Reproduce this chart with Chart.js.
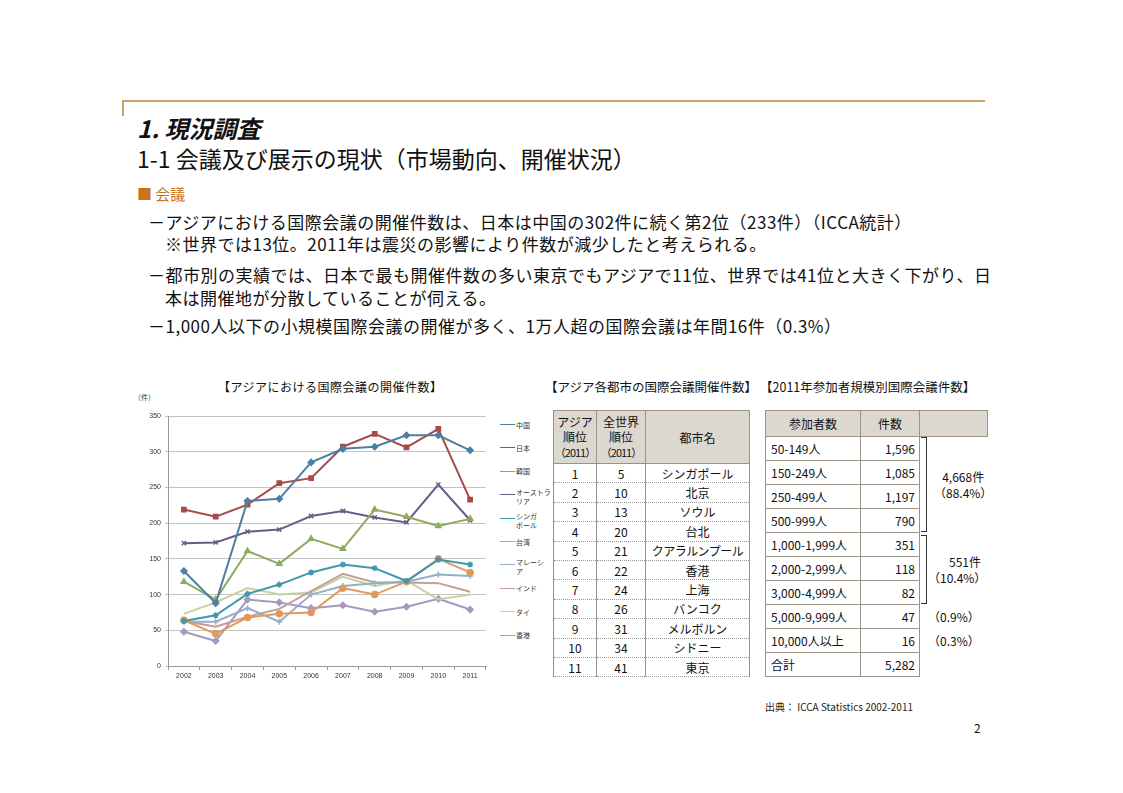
<!DOCTYPE html>
<html lang="ja">
<head>
<meta charset="utf-8">
<script src="https://cdn.jsdelivr.net/npm/chart.js@4.4.0/dist/chart.umd.min.js"></script>
<style>
body{margin:0;width:1123px;height:793px;background:#fff;position:relative;overflow:hidden;font-family:"Noto Sans CJK JP","Noto Sans",sans-serif;color:#111}
.abs{position:absolute;white-space:nowrap}
.bul{font-size:17px;letter-spacing:0.5px;padding-left:17px;text-indent:-17px}
table{position:absolute;border-collapse:collapse;table-layout:fixed;font-size:12px;color:#111}
td{padding:0;white-space:nowrap;border-left:1px solid #9b9386;border-right:1px solid #9b9386}
.t1 td{text-align:center;border-bottom:1px dotted #999;height:18.4px;line-height:17px}
.t1 th,.t2 th{background:#dcd8d0;font-weight:normal;border:1px solid #9b9386;line-height:15px;padding:0;font-size:12px}
.t1 th small{font-size:11px;letter-spacing:-1px}
.t2 td{border:1px solid #9b9386;height:23px;line-height:20px}
.t2 td.n{text-align:right;padding-right:4px}
.t2 td.l{text-align:left;padding-left:5px}
.t2 td.e{border:none}
#legend div{position:absolute;font-size:7px;line-height:9px;color:#333}
.br{position:absolute;border:1px solid #333;border-left:none;width:5px}
</style>
</head>
<body>
<div class="abs" style="left:122px;top:100px;width:863px;height:0;border-top:2px solid #c8a468"></div>
<div class="abs" style="left:122px;top:100px;width:0;height:16px;border-left:2px solid #c8a468"></div>
<div class="abs" style="left:137px;top:113px;font-size:23px;line-height:30px"><b style="font-size:24px;font-style:italic">1. 現況調査</b><br>1-1 会議及び展示の現状（市場動向、開催状況）</div>
<div class="abs" style="left:137px;top:184px;font-size:15px;line-height:20px;color:#c8741c">■ 会議</div>
<div class="abs bul" style="left:148px;top:211px;line-height:22px">－アジアにおける国際会議の開催件数は、日本は中国の302件に続く第2位（233件）（ICCA統計）<br>※世界では13位。2011年は震災の影響により件数が減少したと考えられる。</div>
<div class="abs bul" style="left:148px;top:263px;line-height:23px">－都市別の実績では、日本で最も開催件数の多い東京でもアジアで11位、世界では41位と大きく下がり、日<br>本は開催地が分散していることが伺える。</div>
<div class="abs bul" style="left:148px;top:315px;line-height:22px">－1,000人以下の小規模国際会議の開催が多く、1万人超の国際会議は年間16件（0.3%）</div>

<div class="abs" style="left:218px;top:379px;font-size:12px;line-height:16px;letter-spacing:0.5px">【アジアにおける国際会議の開催件数】</div>
<div class="abs" style="left:134px;top:392px;font-size:7px;color:#333">（件）</div>
<div style="position:absolute;left:130px;top:400px;width:365px;height:290px"><canvas id="c"></canvas></div>
<div id="legend"></div>

<div class="abs" style="left:545px;top:379px;font-size:12.5px;line-height:16px">【アジア各都市の国際会議開催件数】</div>
<div class="abs" style="left:760px;top:379px;font-size:12.5px;line-height:16px">【2011年参加者規模別国際会議件数】</div>

<table class="t1" style="left:553px;top:410px;width:195px">
<tr><th style="width:42px;height:52px">アジア<br>順位<br><small>（2011）</small></th><th style="width:48px">全世界<br>順位<br><small>（2011）</small></th><th style="width:103px">都市名</th></tr>
<tbody id="t1body"></tbody>
</table>

<table class="t2" style="left:765px;top:410px;width:221px">
<tr><th style="width:94px;height:25px">参加者数</th><th style="width:58px">件数</th><th style="width:67px"></th></tr>
<tbody id="t2body"></tbody>
</table>
<div class="br" style="left:921px;top:437px;height:93px"></div>
<div class="br" style="left:921px;top:535px;height:67px"></div>
<div class="abs" style="left:934px;top:469px;font-size:12px;line-height:16px;text-align:center">4,668件<br>（88.4%）</div>
<div class="abs" style="left:928px;top:554px;font-size:12px;line-height:16px;text-align:right;width:53px">551件<br>（10.4%）</div>
<div class="abs" style="left:928px;top:609px;font-size:12px;line-height:16px">（0.9%）</div>
<div class="abs" style="left:928px;top:633px;font-size:12px;line-height:16px">（0.3%）</div>

<div class="abs" style="left:765px;top:699px;font-size:10px;color:#222">出典： ICCA Statistics 2002-2011</div>
<div class="abs" style="left:974px;top:719px;font-size:12px">2</div>

<script>
const years = ['2002','2003','2004','2005','2006','2007','2008','2009','2010','2011'];
const countries = ['中国','日本','韓国','オーストラリア','シンガポール','台湾','マレーシア','インド','タイ','香港'];
const china     = [133, 88, 231, 234, 285, 304, 307, 323, 323, 302];
const japan     = [219, 209, 226, 256, 263, 307, 325, 306, 332, 233];
const korea     = [118, 93, 161, 143, 178, 164, 219, 209, 196, 206];
const australia = [172, 173, 188, 191, 210, 217, 208, 201, 254, 204];
const singapore = [63, 71, 101, 114, 131, 142, 137, 119, 149, 142];
const taiwan    = [64, 45, 68, 73, 75, 109, 100, 118, 150, 131];
const malaysia  = [62, 62, 81, 62, 100, 112, 116, 118, 128, 126];
const india     = [63, 55, 69, 80, 105, 129, 117, 117, 116, 104];
const thai      = [73, 89, 109, 100, 103, 125, 112, 120, 93, 100];
const hongkong  = [48, 35, 93, 89, 81, 85, 76, 83, 94, 79];
const yTicks = [0, 50, 100, 150, 200, 250, 300, 350];

const cityAsiaRank = [1,2,3,4,5,6,7,8,9,10,11];
const cityWorldRank = [5,10,13,20,21,22,24,26,31,34,41];
const cityNames = ['シンガポール','北京','ソウル','台北','クアラルンプール','香港','上海','バンコク','メルボルン','シドニー','東京'];
const sizeClasses = ['50-149人','150-249人','250-499人','500-999人','1,000-1,999人','2,000-2,999人','3,000-4,999人','5,000-9,999人','10,000人以上','合計'];
const sizeCounts = ['1,596','1,085','1,197','790','351','118','82','47','16','5,282'];

const series = [china, japan, korea, australia, singapore, taiwan, malaysia, india, thai, hongkong];
const colors = ['#4f7fa0','#a84a4a','#8eaa5c','#6b5a8a','#3f98ac','#df9a5c','#95afc8','#c49c98','#c5d1a0','#a49ac0'];
const markers = ['rectRot','rect','triangle','crossRot','star','circle','cross','line','line','rectRot'];
const legendText = ['中国','日本','韓国','オーストラ<br>リア','シンガ<br>ポール','台湾','マレーシ<br>ア','インド','タイ','香港'];

// テーブル
let h = '';
cityNames.forEach((c, i) => {
    const ls = c.length > 7 ? 'letter-spacing:-0.5px' : '';
    h += `<tr><td>${cityAsiaRank[i]}</td><td>${cityWorldRank[i]}</td><td style="${ls}">${c}</td></tr>`;
});
document.getElementById('t1body').innerHTML = h;
h = '';
sizeClasses.forEach((s, i) => {
    h += `<tr><td class="l">${s}</td><td class="n">${sizeCounts[i]}</td><td class="e"></td></tr>`;
});
document.getElementById('t2body').innerHTML = h;

const chart = new Chart(document.getElementById('c'), {
    type: 'line',
    data: {
        labels: years,
        datasets: countries.map((name, i) => ({
            label: name,
            data: series[i],
            borderColor: colors[i],
            backgroundColor: colors[i],
            borderWidth: 2,
            pointStyle: markers[i],
            pointRadius: markers[i] === 'line' ? 0 : 3,
            pointBorderWidth: 1.5,
            tension: 0
        }))
    },
    options: {
        responsive: true,
        maintainAspectRatio: false,
        animation: false,
        layout: { padding: { top: 16, right: 9, left: 0, bottom: 0 } },
        plugins: { legend: { display: false }, tooltip: { enabled: false } },
        scales: {
            x: {
                offset: true,
                grid: { offset: true, drawOnChartArea: false, tickLength: 4, color: '#999' },
                border: { color: '#999' },
                ticks: { font: { size: 7 }, color: '#333', padding: 2 },
                afterFit: s => { s.height = 24; }
            },
            y: {
                min: 0,
                max: 350,
                afterBuildTicks: s => { s.ticks = yTicks.map(v => ({ value: v })); },
                grid: { color: '#c4c4c4', tickLength: 3 },
                border: { color: '#999' },
                ticks: { font: { size: 7 }, color: '#333', padding: 4 },
                afterFit: s => { s.width = 38; }
            }
        }
    }
});

// 凡例
const lg = document.getElementById('legend');
countries.forEach((name, i) => {
    const top = 425 + i * 23.4;
    const two = legendText[i].includes('<br>');
    lg.innerHTML += `<div style="left:500px;top:${top - 1}px;width:15px;height:0;border-top:1.5px solid ${colors[i]}"></div>` +
        `<div style="left:516px;top:${two ? top - 7 : top - 4.5}px">${legendText[i]}</div>`;
});
</script>
</body>
</html>
